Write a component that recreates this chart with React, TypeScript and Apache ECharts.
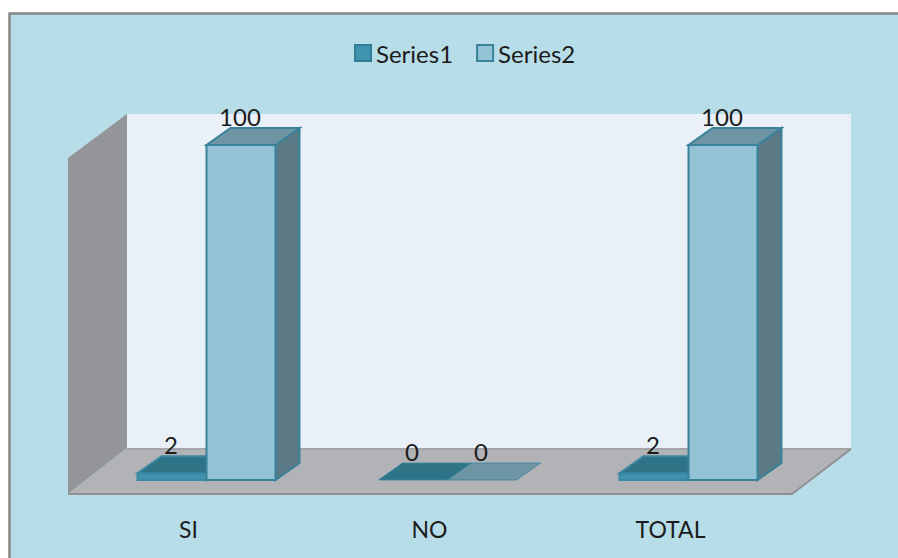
import React, { useEffect, useRef } from "react";
import * as echarts from "echarts";

const categories = ["SI", "NO", "TOTAL"];
const series1Values = [2, 0, 2];
const series2Values = [100, 0, 100];
const valueLabels1 = ["2", "0", "2"];
const valueLabels2 = ["100", "0", "100"];

const FONT = "Lato";
const BAR_W = 69;
const DEPTH_X = 24;
const DEPTH_Y = 17;
const BAR_SHIFT = 18;

// Draws one extruded bar; slot -1 sits left of the category centre, slot 0 right of it.
function box3d(
  slot: number,
  labels: string[],
  front: string,
  top: string,
  side: string,
  stroke: string
) {
  return (params: any, api: any) => {
    const idx = params.dataIndex;
    const base = api.coord([api.value(0), 0]);
    const head = api.coord([api.value(0), api.value(1)]);
    const x0 = base[0] + BAR_SHIFT + slot * BAR_W;
    const x1 = x0 + BAR_W;
    const yB = base[1];
    const yT = head[1];
    const st = (fill: string) => ({ fill, stroke, lineWidth: 2 });
    const children: any[] = [];
    if (yB - yT > 0.5) {
      children.push({
        type: "polygon",
        shape: { points: [[x1, yT], [x1 + DEPTH_X, yT - DEPTH_Y], [x1 + DEPTH_X, yB - DEPTH_Y], [x1, yB]] },
        style: st(side),
      });
      children.push({
        type: "rect",
        shape: { x: x0, y: yT, width: BAR_W, height: yB - yT },
        style: st(front),
      });
    }
    children.push({
      type: "polygon",
      shape: { points: [[x0, yT], [x1, yT], [x1 + DEPTH_X, yT - DEPTH_Y], [x0 + DEPTH_X, yT - DEPTH_Y]] },
      style: { fill: top, stroke, lineWidth: yB - yT > 0.5 ? 2 : 0.8 },
    });
    children.push({
      type: "text",
      style: {
        text: labels[idx],
        x: x0 + BAR_W / 2 - 1,
        y: yT - DEPTH_Y - 11.5,
        align: "center",
        verticalAlign: "middle",
        fontFamily: FONT,
        fontSize: 24,
        fill: "#1c1c1c",
      },
    });
    return { type: "group", children };
  };
}

export default function App() {
  const ref = useRef<HTMLDivElement>(null);
  useEffect(() => {
    document.body.style.margin = "0";
    const chart = echarts.init(ref.current!, undefined, { renderer: "svg" });
    chart.setOption({
      animation: false,
      backgroundColor: "#ffffff",
      grid: { left: 68, right: 107, top: 145, bottom: 78 },
      legend: {
        top: 36,
        left: 349,
        itemWidth: 16,
        itemHeight: 16,
        itemGap: 23,
        icon: "rect",
        textStyle: { fontFamily: FONT, fontSize: 24, color: "#1c1c1c" },
        data: ["Series1", "Series2"],
      },
      xAxis: {
        type: "category",
        data: categories,
        axisLine: { show: false },
        axisTick: { show: false },
        axisLabel: { margin: 37, fontFamily: FONT, fontSize: 23, color: "#1c1c1c" },
      },
      yAxis: {
        type: "value",
        min: 0,
        max: 100,
        show: false,
      },
      graphic: [
        // chart frame
        { type: "rect", shape: { x: 9.5, y: 13.5, width: 900, height: 560 }, style: { fill: "#b7dde8", stroke: "#868686", lineWidth: 2.5 }, z: -10 },
        // back wall
        { type: "rect", shape: { x: 127, y: 114, width: 724, height: 334 }, style: { fill: "#e9f0f7" }, z: -9 },
        // side wall
        { type: "polygon", shape: { points: [[68, 158], [127, 114], [127, 448], [68, 494]] }, style: { fill: "#939598" }, z: -9 },
        // floor
        { type: "polygon", shape: { points: [[68, 494], [127, 448], [851, 448], [792, 494]] }, style: { fill: "#b1b3b6" }, z: -9 },
        { type: "polyline", shape: { points: [[127, 449], [851, 449]] }, style: { stroke: "#a3a5a8", lineWidth: 2, fill: "none" }, z: -8 },
        { type: "polyline", shape: { points: [[68, 494], [792, 494], [851, 449]] }, style: { stroke: "#8e9092", lineWidth: 2, fill: "none" }, z: -8 },
      ],
      series: [
        {
          name: "Series1",
          type: "custom",
          coordinateSystem: "cartesian2d",
          itemStyle: { color: "#3f93ae", borderColor: "#2f7d96", borderWidth: 2 },
          encode: { x: 0, y: 1 },
          data: series1Values.map((v, i) => [i, v]),
          renderItem: box3d(-1, valueLabels1, "#3f93ae", "#2f7386", "#2f7386", "#3a88a3"),
        },
        {
          name: "Series2",
          type: "custom",
          coordinateSystem: "cartesian2d",
          itemStyle: { color: "#93c3d5", borderColor: "#3a819a", borderWidth: 2 },
          encode: { x: 0, y: 1 },
          data: series2Values.map((v, i) => [i, v]),
          renderItem: box3d(0, valueLabels2, "#93c3d5", "#6e95a3", "#5b7a85", "#3a819a"),
        },
      ],
    });
    return () => chart.dispose();
  }, []);
  return <div ref={ref} style={{ width: 898, height: 558 }} />;
}
